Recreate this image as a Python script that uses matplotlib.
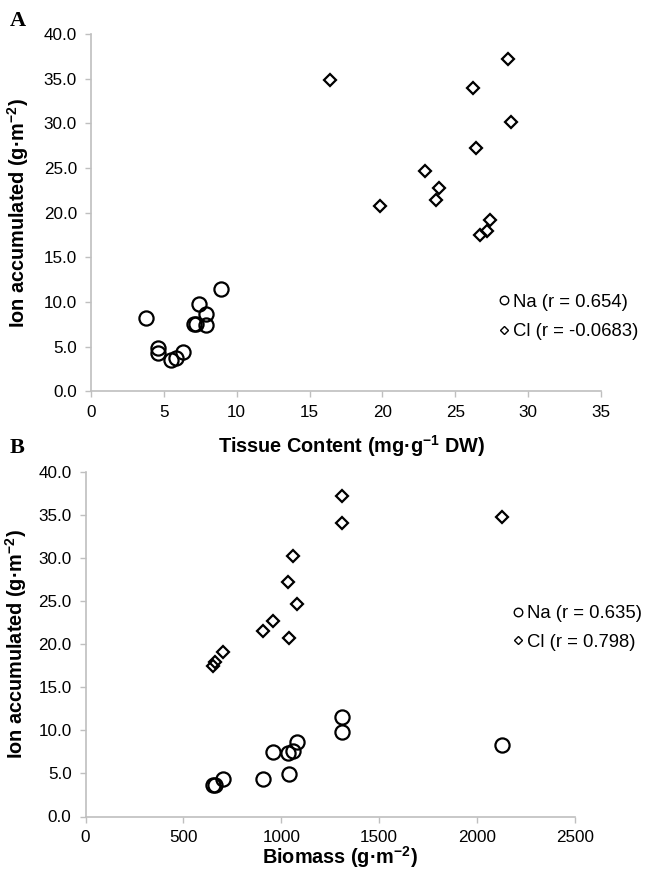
import matplotlib
matplotlib.use("Agg")
import matplotlib.pyplot as plt

# Panel A: tissue content (mg/g DW) vs ion accumulated (g/m2)
na_tissue = [3.8, 4.6, 4.6, 5.5, 5.8, 6.3, 7.1, 7.2, 7.4, 7.9, 7.9, 8.9]
na_acc_a = [8.2, 4.9, 4.3, 3.5, 3.7, 4.4, 7.5, 7.5, 9.8, 8.6, 7.4, 11.5]
cl_tissue = [16.4, 19.8, 22.9, 23.9, 23.7, 26.2, 26.4, 26.7, 27.2, 27.4, 28.6, 28.8]
cl_acc_a = [34.8, 20.7, 24.7, 22.8, 21.4, 34.0, 27.2, 17.5, 18.0, 19.2, 37.2, 30.2]

# Panel B: biomass (g/m2) vs ion accumulated (g/m2)
biomass = [653, 661, 700, 908, 956, 1036, 1041, 1058, 1082, 1308, 1311, 2126]
na_acc_b = [3.6, 3.7, 4.4, 4.3, 7.5, 7.4, 4.9, 7.6, 8.6, 11.5, 9.8, 8.3]
cl_acc_b = [17.5, 17.9, 19.1, 21.5, 22.7, 27.2, 20.7, 30.2, 24.7, 34.1, 37.2, 34.8]

na_labels = ["Na (r = 0.654)", "Na (r = 0.635)"]
cl_labels = ["Cl (r = -0.0683)", "Cl (r = 0.798)"]
y_ticks = [0, 5, 10, 15, 20, 25, 30, 35, 40]

plt.rcParams["font.family"] = ["Liberation Sans", "DejaVu Sans"]
plt.rcParams["mathtext.fontset"] = "custom"
plt.rcParams["mathtext.rm"] = "Liberation Sans"
plt.rcParams["mathtext.bf"] = "Liberation Sans:bold"

GRAY = "#bfbfbf"
W, H = 646, 874


def style_axis(ax):
    for side in ["top", "right"]:
        ax.spines[side].set_visible(False)
    for side in ["left", "bottom"]:
        ax.spines[side].set_color(GRAY)
        ax.spines[side].set_linewidth(1.2)
    ax.tick_params(direction="out", length=4, width=1.0, color=GRAY,
                   labelsize=12.3, labelcolor="black")
    ax.tick_params(axis="y", pad=6)
    ax.tick_params(axis="x", pad=6)
    ax.set_yticks(y_ticks)
    ax.set_yticklabels([f"{v:.1f}" for v in y_ticks])
    ax.set_ylim(0, 40)


def scatter(ax, x1, y1, x2, y2, lab1, lab2):
    ax.plot(x1, y1, "o", ms=10.2, mfc="none", mec="black", mew=1.6,
            label=lab1, clip_on=False)
    ax.plot(x2, y2, "D", ms=6.6, mfc="none", mec="black", mew=1.6,
            label=lab2, clip_on=False)


def add_legend(ax, left_px, mid_px, spacing):
    leg = ax.legend(loc="center left", bbox_to_anchor=(left_px / W, 1 - mid_px / H),
                    bbox_transform=fig.transFigure, frameon=False, fontsize=13.3,
                    markerscale=0.6, handletextpad=0.1, handlelength=0.8,
                    labelspacing=spacing, borderaxespad=0, borderpad=0)
    for h in leg.legend_handles:
        h.set_markeredgewidth(1.0)


label_kw = dict(fontsize=14.3, fontweight="bold")

fig = plt.figure(figsize=(W / 100, H / 100), dpi=100)

# panel A
axA = fig.add_axes([91 / W, 1 - 391.3 / H, 510 / W, 357.3 / H])
scatter(axA, na_tissue, na_acc_a, cl_tissue, cl_acc_a, na_labels[0], cl_labels[0])
style_axis(axA)
axA.set_xlim(0, 35)
axA.set_xticks(range(0, 36, 5))
axA.set_xlabel(r"Tissue Content (mg·g$^{\mathbf{-1}}$ DW)", **label_kw)
axA.set_ylabel(r"Ion accumulated (g·m$^{\mathbf{-2}}$)", **label_kw)
axA.xaxis.set_label_coords((352 - 91) / 510, -(433 - 391.3) / 357.3)
axA.yaxis.set_label_coords(-(91 - 31) / 510, 0.5)
add_legend(axA, 496.5, 317, 0.7)

# panel B
axB = fig.add_axes([85.5 / W, 1 - 816.5 / H, 489.5 / W, 344.8 / H])
scatter(axB, biomass, na_acc_b, biomass, cl_acc_b, na_labels[1], cl_labels[1])
style_axis(axB)
axB.set_xlim(0, 2500)
axB.set_xticks(range(0, 2501, 500))
axB.set_xlabel(r"Biomass (g·m$^{\mathbf{-2}}$)", **label_kw)
axB.set_ylabel(r"Ion accumulated (g·m$^{\mathbf{-2}}$)", **label_kw)
axB.xaxis.set_label_coords((340 - 85.5) / 489.5, -(844 - 816.5) / 344.8)
axB.yaxis.set_label_coords(-(85.5 - 29) / 489.5, 0.5)
add_legend(axB, 510.5, 628, 0.6)

fig.text(18 / W, 1 - 21 / H, "A", family="Liberation Serif", fontweight="bold",
         fontsize=16, ha="center", va="center")
fig.text(17 / W, 1 - 448 / H, "B", family="Liberation Serif", fontweight="bold",
         fontsize=16, ha="center", va="center")

fig.savefig("out.png", dpi=100)
